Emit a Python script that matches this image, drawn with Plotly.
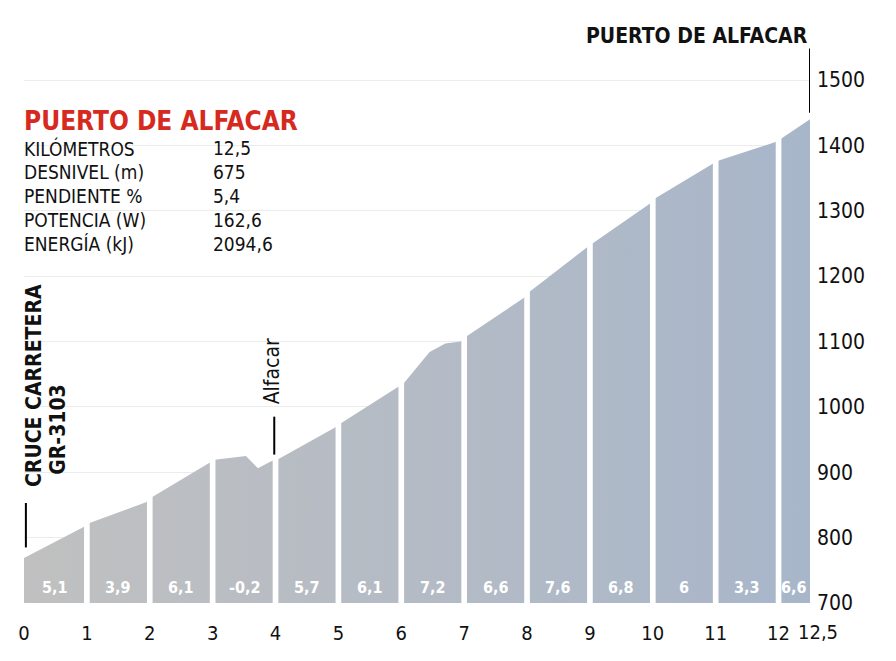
import plotly.graph_objects as go

# profile (km, elevation m)
dist = [0, 0.94, 1.03, 1.94, 2.04, 2.94, 3.03, 3.53, 3.72, 3.93, 4.04, 4.94,
        5.04, 5.94, 6.04, 6.45, 6.7, 6.94, 7.04, 7.94, 8.04, 8.94, 9.04, 9.94,
        10.04, 10.94, 11.05, 11.95, 12.05, 12.5]
elev = [769, 816, 822, 854, 862, 914, 919, 925, 906, 917, 920, 968,
        975, 1030, 1036, 1084, 1097, 1100, 1108, 1166, 1176, 1243, 1250, 1310,
        1319, 1371, 1377, 1405, 1411, 1440]
gap_km = [1, 2, 3, 4, 5, 6, 7, 8, 9, 10, 11, 12]
gap_elev = [825, 864, 925, 925, 980, 1040, 1110, 1180, 1255, 1322, 1380, 1415]
grad_labels = ["5,1", "3,9", "6,1", "-0,2", "5,7", "6,1", "7,2", "6,6", "7,6", "6,8", "6", "3,3", "6,6"]
grad_pos = [0.5, 1.5, 2.5, 3.5, 4.5, 5.5, 6.5, 7.5, 8.5, 9.5, 10.5, 11.5, 12.25]
x_ticks = [0, 1, 2, 3, 4, 5, 6, 7, 8, 9, 10, 11, 12]
x_tick_text = ["0", "1", "2", "3", "4", "5", "6", "7", "8", "9", "10", "11", "12"]
last_tick = 12.5
last_tick_text = "12,5"
y_ticks = [700, 800, 900, 1000, 1100, 1200, 1300, 1400, 1500]
stat_names = ["KILÓMETROS", "DESNIVEL (m)", "PENDIENTE %", "POTENCIA (W)", "ENERGÍA (kJ)"]
stat_vals = ["12,5", "675", "5,4", "162,6", "2094,6"]

FONT = "DejaVu Sans Condensed, Liberation Sans Narrow, sans-serif"
PH = 595.0  # plot height px

def py(p):  # screen pixel y -> paper y
    return (603 - p) / PH

fig = go.Figure()
fig.add_trace(go.Scatter(
    x=dist, y=elev, mode="lines", line=dict(width=0), fill="tozeroy",
    fillgradient=dict(type="horizontal",
                      colorscale=[[0, "rgb(192,192,192)"], [1, "rgb(168,182,202)"]]),
    hoverinfo="skip"))
for k, e in zip(gap_km, gap_elev):
    fig.add_shape(type="rect", x0=k - 0.045, x1=k + 0.045, y0=700, y1=e,
                  fillcolor="white", line=dict(width=0), layer="above")

for p, t in zip(grad_pos, grad_labels):
    fig.add_annotation(x=p, y=724, text=t, showarrow=False,
                       font=dict(family=FONT, size=16, color="white", weight="bold"))

fig.add_annotation(xref="paper", yref="paper", x=0, y=py(121), xanchor="left", yanchor="middle",
                   text="PUERTO DE ALFACAR", showarrow=False,
                   font=dict(family=FONT, size=26, color="#d62a1f", weight="bold"), xshift=-2)
for i, (n, v) in enumerate(zip(stat_names, stat_vals)):
    yy = py(148 + 24*i)
    fig.add_annotation(xref="paper", yref="paper", x=0, y=yy, xanchor="left", yanchor="middle",
                       text=n, showarrow=False, font=dict(family=FONT, size=19, color="#111"), xshift=-2)
    fig.add_annotation(xref="paper", yref="paper", x=(213-24)/786, y=yy, xanchor="left", yanchor="middle",
                       text=v, showarrow=False, font=dict(family=FONT, size=19, color="#111"), xshift=-2)

fig.add_annotation(x=last_tick, y=py(632), yref="paper", yanchor="middle", xshift=8,
                   text=last_tick_text, showarrow=False,
                   font=dict(family=FONT, size=20, color="#111"))

# place labels
fig.add_annotation(x=0.16, y=1032, text="CRUCE CARRETERA", textangle=-90, showarrow=False,
                   font=dict(family=FONT, size=21, color="#111", weight="bold"))
fig.add_annotation(x=0.54, y=965, text="GR-3103", textangle=-90, showarrow=False,
                   font=dict(family=FONT, size=21, color="#111", weight="bold"))
fig.add_annotation(x=3.94, y=1054, text="Alfacar", textangle=-90, showarrow=False,
                   font=dict(family=FONT, size=21, color="#111"))
fig.add_annotation(x=12.5, y=1567, text="PUERTO DE ALFACAR", showarrow=False,
                   xanchor="right", yanchor="middle",
                   font=dict(family=FONT, size=21, color="#111", weight="bold"))
fig.add_shape(type="line", x0=0.03, x1=0.03, y0=785, y1=853, line=dict(color="black", width=2))
fig.add_shape(type="line", x0=3.98, x1=3.98, y0=927, y1=985, line=dict(color="black", width=2))
fig.add_shape(type="line", x0=12.5, x1=12.5, y0=1450, y1=1548, line=dict(color="black", width=2))

fig.update_layout(
    width=896, height=661, plot_bgcolor="white", paper_bgcolor="white",
    margin=dict(l=16, r=94, t=0, b=66, autoexpand=False), showlegend=False,
    xaxis=dict(range=[0, 12.5], tickvals=x_ticks, ticktext=x_tick_text, showgrid=False,
               zeroline=False, showline=False, ticks="", tickangle=0, automargin=False,
               ticklabelstandoff=16,
               tickfont=dict(family=FONT, size=20, color="#111")),
    yaxis=dict(range=[700, 700 + PH/0.65375], side="right", tickvals=y_ticks, showgrid=True,
               gridcolor="#ececec", zeroline=False, showline=False, ticks="", automargin=False,
               ticklabelstandoff=6,
               tickfont=dict(family=FONT, size=21, color="#111")),
)
fig.write_html("out.html")
